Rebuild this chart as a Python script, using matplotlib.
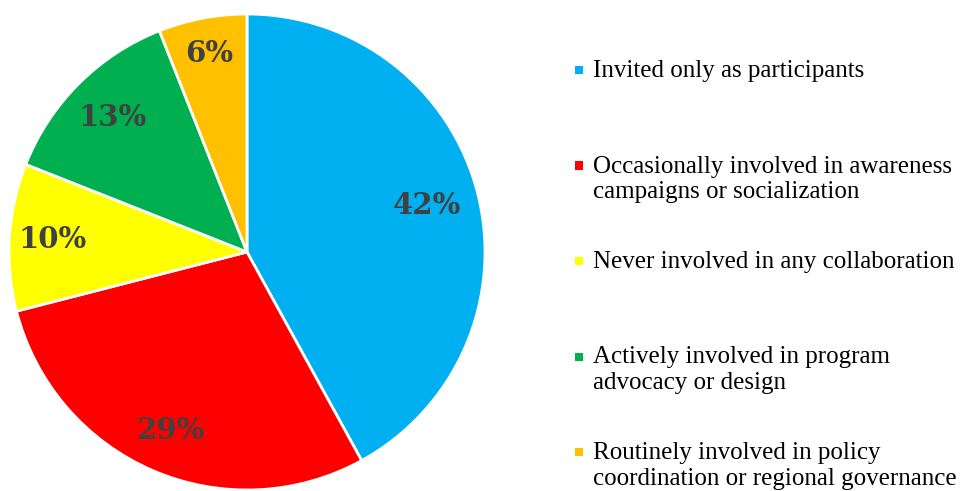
import numpy as np
import matplotlib.pyplot as plt
from matplotlib.patches import Rectangle

categories = [
    "Invited only as participants",
    "Occasionally involved in awareness\ncampaigns or socialization",
    "Never involved in any collaboration",
    "Actively involved in program\nadvocacy or design",
    "Routinely involved in policy\ncoordination or regional governance",
]
shares = [42, 29, 10, 13, 6]
colors = ["#00B0F0", "#FF0000", "#FFFF00", "#00B050", "#FFC000"]

# how far out each percent label sits (fraction of radius)
label_r = [0.78, 0.815, 0.82, 0.80, 0.85]

plt.rcParams["font.family"] = ["DejaVu Serif"]

fig = plt.figure(figsize=(9.67, 4.91), dpi=100)
W, H = 967, 491

# pie: centre (247, 252) px, radius 238 px
cx, cy, r = 247, 252, 238
ax = fig.add_axes([(cx - r) / W, (H - cy - r) / H, 2 * r / W, 2 * r / H])
wedges, _ = ax.pie(
    shares,
    colors=colors,
    startangle=90,
    counterclock=False,
    wedgeprops=dict(edgecolor="white", linewidth=2),
)
for w, v, d in zip(wedges, shares, label_r):
    w.set_clip_on(False)
    mid = np.deg2rad((w.theta1 + w.theta2) / 2)
    ax.text(d * np.cos(mid), d * np.sin(mid), f"{v}%", ha="center", va="center",
            fontsize=21, fontweight="bold", color="#404040")
ax.set_xlim(-1, 1)
ax.set_ylim(-1, 1)
ax.set_aspect("equal")

# legend, one entry every 95.5 px
for i, (lab, col) in enumerate(zip(categories, colors)):
    y = 70 + i * 95.5
    fig.patches.append(Rectangle((575 / W, (H - y - 4) / H), 8 / W, 8 / H,
                                 transform=fig.transFigure, facecolor=col,
                                 edgecolor="none"))
    fig.text(593 / W, (H - y + 10) / H, lab, fontsize=18, color="black",
             family="Liberation Serif", va="top", ha="left", linespacing=1.22)

fig.savefig("out.png", dpi=100)
